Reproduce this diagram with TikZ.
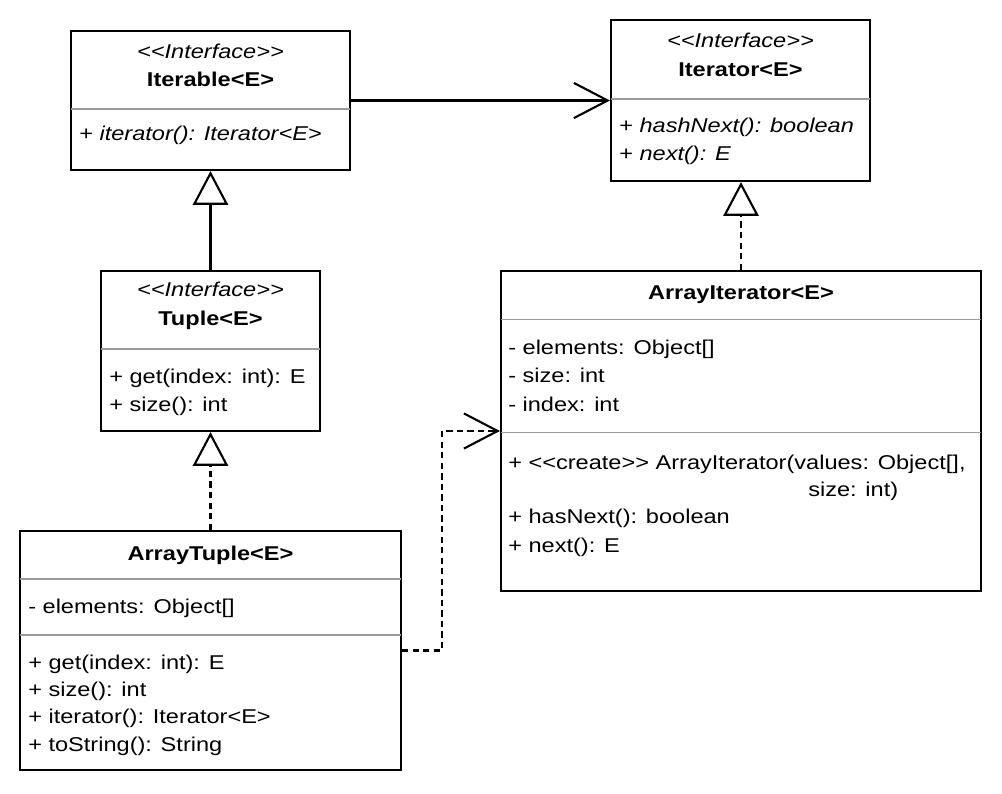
\documentclass[tikz,border=0pt]{standalone}
\usepackage{fontspec}
\setmainfont{Liberation Sans}[FakeStretch=1.18,Ligatures=TeXOff]
\usetikzlibrary{arrows.meta,fit}

\begin{document}
\begin{tikzpicture}[x=0.025cm,y=-0.025cm,
	classbox/.style={draw, line width=1.5pt, inner sep=0pt},
	sepline/.style={draw=black!40, line width=1.1pt},
	member/.style={anchor=base west, inner sep=0pt, font=\fontsize{14.2}{17}\selectfont},
	classname/.style={anchor=base, inner sep=0pt, font=\fontsize{14.2}{17}\selectfont\bfseries},
	stereotype/.style={anchor=base, inner sep=0pt, font=\fontsize{14.2}{17}\selectfont\itshape},
	assoc/.style={line width=1.5pt, -{Straight Barb[length=24pt,width=25pt,line width=1.5pt]}},
	inherit/.style={line width=1.5pt, -{Triangle[open,length=24pt,width=25pt,line width=1.5pt]}},
	realize/.style={inherit, dash pattern=on 4.5pt off 3pt},
	depend/.style={assoc, dash pattern=on 4.5pt off 3pt}]
	
	\useasboundingbox (0,0) rectangle (1002,794);
	
	% Iterable
	\node [classbox, fit={(71,31) (350,170)}] (iterable) {};
	
	\node [stereotype] (iterableS) at (210.5,58.5) {<<Interface>>};
	\node [classname] (iterableT) at (210.5,86.5) {Iterable<E>};
	
	\draw [sepline] (71,109) -- (350,109);
	
	\node [member] (iterableM1) at (79,141) {+ \textit{iterator(): Iterator<E>}};
	
	% Iterator
	\node [classbox, fit={(611,20) (870,181)}] (iterator) {};
	
	\node [stereotype] (iteratorS) at (740.5,48) {<<Interface>>};
	\node [classname] (iteratorT) at (740.5,77) {Iterator<E>};
	
	\draw [sepline] (611,99) -- (870,99);
	
	\node [member] (iteratorM1) at (619,133) {+ \textit{hashNext(): boolean}};
	\node [member] (iteratorM2) at (619,160.5) {+ \textit{next(): E}};
	
	% Tuple
	\node [classbox, fit={(101,271) (320,431)}] (tuple) {};
	
	\node [stereotype] (tupleS) at (210.5,297) {<<Interface>>};
	\node [classname] (tupleT) at (210.5,326) {Tuple<E>};
	
	\draw [sepline] (101,349) -- (320,349);
	
	\node [member] (tupleM1) at (109,384) {+ get(index: int): E};
	\node [member] (tupleM2) at (109,411.5) {+ size(): int};
	
	% ArrayIterator
	\node [classbox, fit={(501,271) (981,591)}] (arriter) {};
	
	\node [classname] (arriterT) at (741,299.5) {ArrayIterator<E>};
	
	\draw [sepline] (501,319.5) -- (981,319.5);
	
	\node [member] (arriterA1) at (508,355) {- elements: Object[]};
	\node [member] (arriterA2) at (508,383) {- size: int};
	\node [member] (arriterA3) at (508,411.5) {- index: int};
	
	\draw [sepline] (501,432.5) -- (981,432.5);
	
	\node [member] (arriterM1) at (508,469.5) {+ <<create>> ArrayIterator(values: Object[],};
	\node [member] (arriterM1b) at (808,496) {size: int)};
	\node [member] (arriterM2) at (508,523.5) {+ hasNext(): boolean};
	\node [member] (arriterM3) at (508,552.5) {+ next(): E};
	
	% ArrayTuple
	\node [classbox, fit={(20,531) (401,770)}] (arrtuple) {};
	
	\node [classname] (arrtupleT) at (210.5,560) {ArrayTuple<E>};
	
	\draw [sepline] (20,579) -- (401,579);
	
	\node [member] (arrtupleA1) at (28,613) {- elements: Object[]};
	
	\draw [sepline] (20,635) -- (401,635);
	
	\node [member] (arrtupleM1) at (28,669) {+ get(index: int): E};
	\node [member] (arrtupleM2) at (28,696.5) {+ size(): int};
	\node [member] (arrtupleM3) at (28,723.5) {+ iterator(): Iterator<E>};
	\node [member] (arrtupleM4) at (28,751) {+ toString(): String};
	
	% relations
	\draw [assoc] (iterable.east) -- (iterator.west);
	
	\draw [inherit] (tuple.north) -- (iterable.south);
	
	\draw [realize] (arrtuple.north) -- (tuple.south);
	
	\draw [realize] (arriter.north) -- (arriter.north |- iterator.south);
	
	\draw [depend] (arrtuple.east) -- ++(40,0) |- (arriter.west);
	
\end{tikzpicture}
\end{document}
